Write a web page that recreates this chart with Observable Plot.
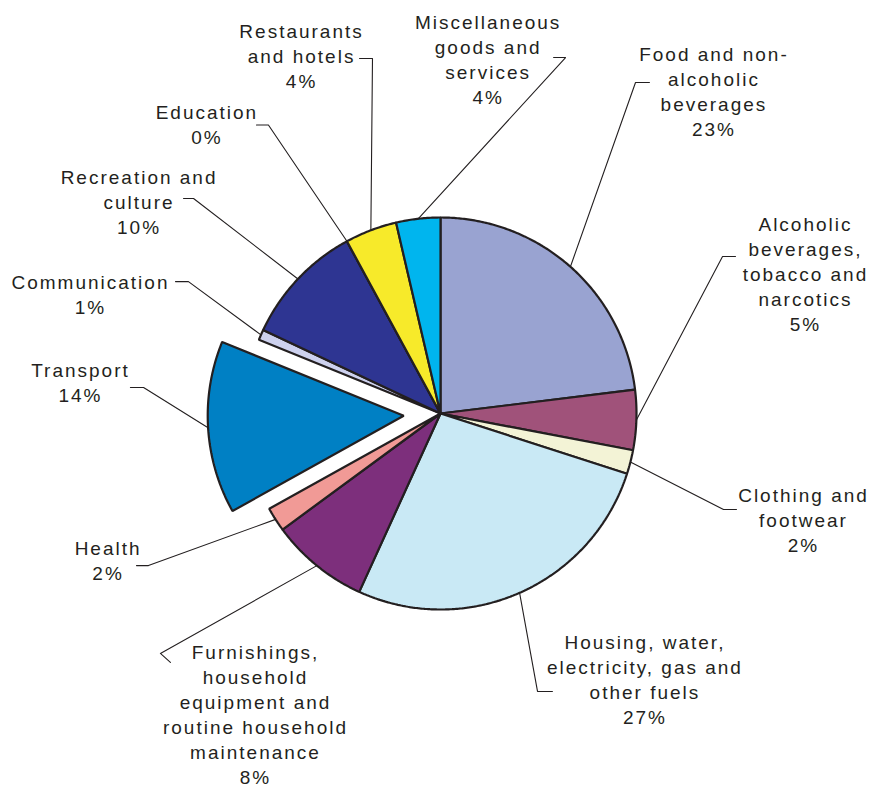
<!DOCTYPE html>
<html>
<head>
<meta charset="utf-8">
<script src="https://cdn.jsdelivr.net/npm/d3@7"></script>
<script src="https://cdn.jsdelivr.net/npm/@observablehq/plot@0.6"></script>
<style>
  html, body { margin: 0; padding: 0; background: #ffffff; }
  #chart svg { display: block; }
</style>
</head>
<body>
<div id="chart"></div>
<script>
// ---------------- data ----------------
const categories = [
  "Food and non-alcoholic beverages",
  "Alcoholic beverages, tobacco and narcotics",
  "Clothing and footwear",
  "Housing, water, electricity, gas and other fuels",
  "Furnishings, household equipment and routine household maintenance",
  "Health",
  "Transport",
  "Communication",
  "Recreation and culture",
  "Education",
  "Restaurants and hotels",
  "Miscellaneous goods and services"
];
const shares = [23.06, 4.94, 1.97, 26.83, 8.11, 2.00, 14.22, 0.86, 10.08, 0.00, 4.28, 3.64];
const percentLabels = ["23%", "5%", "2%", "27%", "8%", "2%", "14%", "1%", "10%", "0%", "4%", "4%"];
const labelLines = [
  ["Food and non-", "alcoholic", "beverages"],
  ["Alcoholic", "beverages,", "tobacco and", "narcotics"],
  ["Clothing and", "footwear"],
  ["Housing, water,", "electricity, gas and", "other fuels"],
  ["Furnishings,", "household", "equipment and", "routine household", "maintenance"],
  ["Health"],
  ["Transport"],
  ["Communication"],
  ["Recreation and", "culture"],
  ["Education"],
  ["Restaurants", "and hotels"],
  ["Miscellaneous", "goods and", "services"]
];

// ---------------- styles / layout ----------------
const colors = ["#99a3d1", "#a0527a", "#f3f3d6", "#c9e9f5", "#7d2f7c", "#f19a96",
                "#0080c4", "#cdd1ee", "#2e3592", "#8fa0d0", "#f7ea2a", "#00b5ee"];
const explode = [0, 0, 0, 0, 0, 0, 0.188, 0, 0, 0, 0, 0];           // in pie radii
// label anchor: centre x, baseline of last line (pie-radius units, y up)
const labelX = [1.390, 1.857, 1.847, 1.038, -0.949, -1.701, -1.842, -1.791, -1.543, -1.197, -0.714, 0.238];
const labelY = [1.416, 0.421, -0.708, -1.583, -1.888, -0.847, 0.058, 0.509, 0.917, 1.376, 1.662, 1.577];
// leader line elbow and end points
const elbowX = [0.995, 1.439, 1.444, 0.495, -1.429, -1.490, -1.515, -1.286, -1.260, -0.878, -0.347, 0.638];
const elbowY = [1.689, 0.801, -0.490, -1.418, -1.224, -0.776, 0.133, 0.673, 1.097, 1.472, 1.811, 1.816];
const endX   = [1.066, 1.505, 1.510, 0.571, -1.378, -1.551, -1.582, -1.352, -1.311, -0.939, -0.413, 0.577];
const endY   = [1.689, 0.801, -0.490, -1.418, -1.270, -0.776, 0.133, 0.673, 1.097, 1.472, 1.811, 1.816];

// ---------------- geometry from the data ----------------
const arcs = d3.pie().sort(null).value(d => d)(shares);
const slicePts = [];
const leaderPts = [];
const labels = [];
arcs.forEach((a, i) => {
  const mid = (a.startAngle + a.endAngle) / 2;
  const ox = explode[i] * Math.sin(mid), oy = explode[i] * Math.cos(mid);
  const cat = categories[i];
  slicePts.push({category: cat, x: ox, y: oy});
  const steps = Math.max(2, Math.ceil((a.endAngle - a.startAngle) / (Math.PI / 360)));
  for (let k = 0; k <= steps; ++k) {
    const t = a.startAngle + (a.endAngle - a.startAngle) * k / steps;
    slicePts.push({category: cat, x: ox + Math.sin(t), y: oy + Math.cos(t)});
  }
  leaderPts.push({category: cat, x: ox + Math.sin(mid), y: oy + Math.cos(mid)});
  leaderPts.push({category: cat, x: elbowX[i], y: elbowY[i]});
  leaderPts.push({category: cat, x: endX[i], y: endY[i]});
  labels.push({category: cat, x: labelX[i], y: labelY[i], text: [...labelLines[i], percentLabels[i]].join("\n")});
});

const R = 196; // pixels per pie radius
const chart = Plot.plot({
  width: 869,
  height: 788,
  margin: 0,
  x: {domain: [-440 / R, 429 / R], axis: null},
  y: {domain: [-375 / R, 413 / R], axis: null},
  color: {domain: categories, range: colors},
  style: {fontFamily: "'Liberation Sans', Arial, Helvetica, sans-serif", letterSpacing: "2px", background: "#ffffff"},
  marks: [
    Plot.line(slicePts, {x: "x", y: "y", z: "category", fill: "category", stroke: "#231f20",
      strokeWidth: 2.2, strokeLinejoin: "miter", curve: "linear-closed"}),
    Plot.line(leaderPts, {x: "x", y: "y", z: "category", stroke: "#231f20", strokeWidth: 1.1}),
    Plot.text(labels, {x: "x", y: "y", text: "text", fontSize: 19, lineHeight: 25 / 19,
      lineAnchor: "bottom", textAnchor: "middle", fill: "#231f20", dx: 1})
  ]
});
document.getElementById("chart").append(chart);
</script>
</body>
</html>
